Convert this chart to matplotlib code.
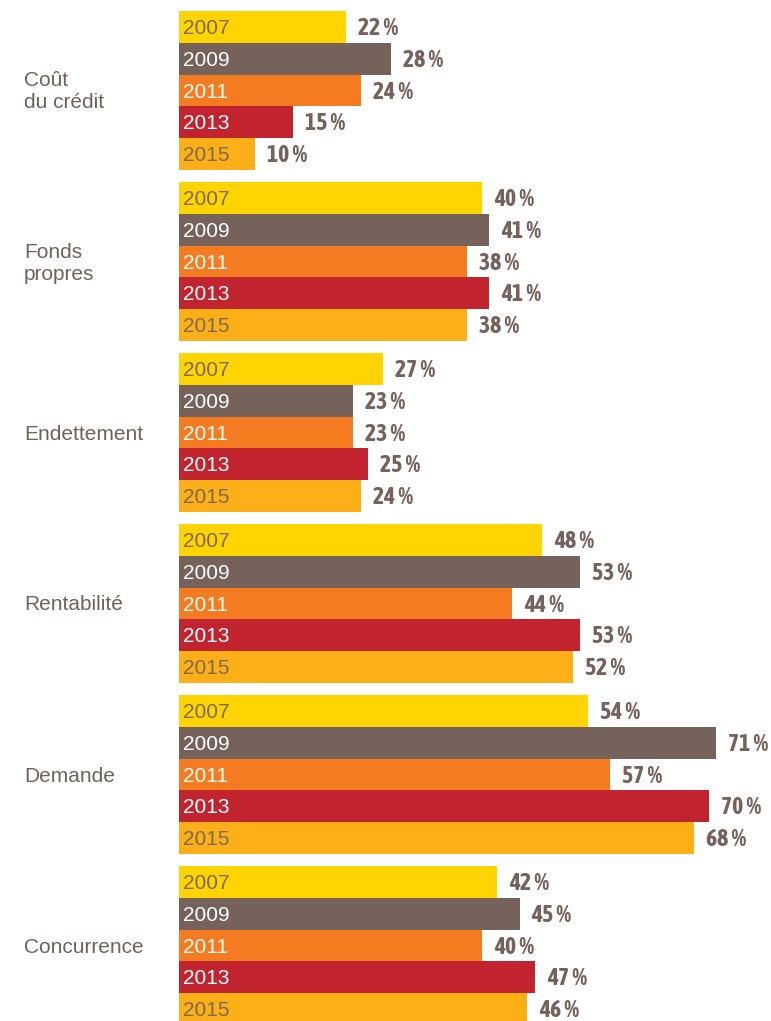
import matplotlib
matplotlib.use("Agg")
import matplotlib.pyplot as plt

# Survey results: share of firms citing each factor, by year
categories = ["Coût\ndu crédit", "Fonds\npropres", "Endettement",
              "Rentabilité", "Demande", "Concurrence"]
years = ["2007", "2009", "2011", "2013", "2015"]
values = {
    "2007": [22, 40, 27, 48, 54, 42],
    "2009": [28, 41, 23, 53, 71, 45],
    "2011": [24, 38, 23, 44, 57, 40],
    "2013": [15, 41, 25, 53, 70, 47],
    "2015": [10, 38, 24, 52, 68, 46],
}

bar_colors = {"2007": "#FFD400", "2009": "#75635B", "2011": "#F47B20",
              "2013": "#C1232F", "2015": "#FCAF17"}
year_text_colors = {"2007": "#7d6a55", "2009": "white", "2011": "white",
                    "2013": "white", "2015": "#7d6a55"}
text_brown = "#75635B"
label_grey = "#6f625b"

W, H, DPI = 771, 1021, 100
fig = plt.figure(figsize=(W / DPI, H / DPI), dpi=DPI)
fig.patch.set_facecolor("white")

x0_px = 179
px_per_pct = 7.57
bar_px = 31.8
ax = fig.add_axes([x0_px / W, 0, (W - x0_px) / W, 1])
ax.set_xlim(0, (W - x0_px) / px_per_pct)
ax.set_ylim(H / bar_px, 0)
ax.axis("off")

first_top = 11 / bar_px
group_pitch = 171 / bar_px
label_offset = 12 / px_per_pct
year_offset = 3.5 / px_per_pct

for g, cat in enumerate(categories):
    top = first_top + g * group_pitch
    for j, yr in enumerate(years):
        v = values[yr][g]
        y = top + j
        ax.barh(y + 0.5, v, height=1.0, left=0, color=bar_colors[yr],
                edgecolor="none")
        ax.text(year_offset, y + 0.55, yr, ha="left", va="center",
                fontsize=15, family="Liberation Sans",
                color=year_text_colors[yr])
        ax.text(v + label_offset, y + 0.55, f"{v} %", ha="left",
                va="center", fontsize=17,
                family=["Asap Condensed", "DejaVu Sans"],
                fontweight="bold", color=text_brown)
    fig.text(24 / W, 1 - (11 + g * 171 + 81) / H, cat, ha="left",
             va="center", fontsize=15, family="Liberation Sans",
             color=label_grey, linespacing=1.2)

fig.savefig("out.png", dpi=DPI, facecolor="white")
